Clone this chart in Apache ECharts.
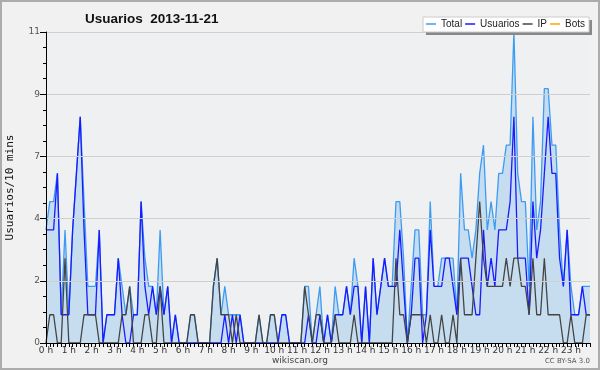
<!DOCTYPE html>
<html><head><meta charset="utf-8">
<script src="https://cdn.jsdelivr.net/npm/echarts@6/dist/echarts.min.js"></script>
<style>html,body{margin:0;padding:0;background:#f1f1f1}#c{width:600px;height:370px}</style>
</head><body><div id="c"></div>
<script>
const hourLabels = ['0 h','1 h','2 h','3 h','4 h','5 h','6 h','7 h','8 h','9 h','10 h','11 h','12 h','13 h','14 h','15 h','16 h','17 h','18 h','19 h','20 h','21 h','22 h','23 h'];
const seriesNames = ['Total','Usuarios','IP','Bots'];
const total = [4,5,5,6,1,4,1,4,6,8, 5,2,2,2,4,0,1,1,1,3, 2,1,2,1,1,5,3,2,2,1, 4,1,2,0,1,0,0,0,1,1, 0,0,0,0,2,3,1,2,1,1, 1,1,0,0,0,0,1,0,0,1, 1,0,1,1,0,0,0,0,2,2, 0,1,2,0,1,0,2,1,1,2, 1,3,2,0,2,0,3,1,2,3, 2,2,5,5,3,0,2,4,4,1, 1,5,2,2,3,3,3,3,1,6, 4,4,3,4,6,7,4,5,4,6, 6,7,7,11,6,5,5,2,8,4, 5,9,9,7,7,4,2,4,2,1, 1,2,2,2];
const usuarios = [4,4,4,6,1,1,1,4,6,8, 4,1,1,1,4,0,1,1,1,3, 1,0,0,1,1,5,2,1,2,1, 2,1,2,0,1,0,0,0,0,0, 0,0,0,0,0,0,0,1,0,1, 0,1,0,0,0,0,0,0,0,0, 0,0,1,1,0,0,0,0,0,1, 0,0,1,0,1,0,1,1,1,2, 1,2,2,0,2,0,3,1,2,3, 2,2,2,4,2,0,1,3,3,0, 1,4,2,2,2,3,3,2,1,3, 3,3,2,1,1,4,2,3,2,4, 4,4,5,8,3,3,3,1,5,3, 4,6,8,6,6,3,2,4,1,1, 1,2,1,1];
const ip = [0,1,1,0,0,3,0,0,0,0, 1,1,1,1,0,0,0,0,0,0, 1,1,2,0,0,0,1,1,0,0, 2,0,0,0,0,0,0,0,1,1, 0,0,0,0,2,3,1,1,1,0, 1,0,0,0,0,0,1,0,0,1, 1,0,0,0,0,0,0,0,2,1, 0,1,1,0,0,0,1,0,0,0, 0,1,0,0,0,0,0,0,0,0, 0,0,3,1,1,0,1,1,1,1, 0,1,0,0,1,0,0,1,0,3, 1,1,1,3,5,3,2,2,2,2, 2,3,2,3,3,2,2,1,3,1, 1,3,1,1,1,1,0,0,1,0, 0,0,1,1];
const bots = [];

const pairs = arr => arr.map((v, i) => [i, v]);
const chart = echarts.init(document.getElementById('c'), null, {renderer: 'canvas'});
const txt = '#333';
chart.setOption({
  animation: false,
  backgroundColor: '#f1f1f1',
  title: {
    text: 'Usuarios  2013-11-21', left: 80, top: 7,
    textStyle: {fontFamily: 'Liberation Sans', fontSize: 13.5, fontWeight: 'bold', color: '#111'}
  },
  grid: {left: 46, right: 10, top: 32, bottom: 27, containLabel: false, outerBoundsMode: 'none',
    show: true, backgroundColor: '#eef0f2', borderWidth: 0},
  legend: {
    data: seriesNames, left: 424, top: 17, width: 180, padding: [2, 2, 2, 2], itemGap: 3,
    itemWidth: 10, itemHeight: 1.5, icon: 'rect', z: 10,
    textStyle: {fontFamily: 'Liberation Sans', fontSize: 10, color: '#222'}
  },
  xAxis: {
    type: 'value', min: 0, max: 143, interval: 6, z: 5,
    axisLine: {lineStyle: {color: '#000', width: 1}},
    axisTick: {length: 4, lineStyle: {color: '#000'}},
    minorTick: {show: true, splitNumber: 6, length: 4, lineStyle: {color: '#000'}},
    splitLine: {show: false},
    axisLabel: {fontFamily: 'DejaVu Sans', fontSize: 9, color: txt, margin: 3,
      formatter: v => hourLabels[Math.round(v / 6)] || ''}
  },
  yAxis: {
    type: 'value', min: 0, max: 11, interval: 2.2, z: 5,
    name: 'Usuarios/10 mins', nameLocation: 'middle', nameGap: 30,
    nameTextStyle: {fontFamily: 'DejaVu Sans Mono', fontSize: 11, color: '#111'},
    axisLine: {show: true, lineStyle: {color: '#000', width: 1}},
    axisTick: {show: true, length: 6, lineStyle: {color: '#000'}},
    minorTick: {show: true, splitNumber: 4, length: 3, lineStyle: {color: '#000'}},
    splitLine: {lineStyle: {color: '#cfcfcf'}},
    axisLabel: {fontFamily: 'DejaVu Sans', fontSize: 9, color: '#555', margin: 6,
      formatter: v => String(Math.round(v))}
  },
  graphic: [
    {type: 'rect', z: 0, shape: {x: 1, y: 1, width: 598, height: 368}, style: {fill: null, stroke: '#acacac', lineWidth: 2}},
    {type: 'rect', z: 8, shape: {x: 426, y: 20, width: 166, height: 15}, style: {fill: '#888'}},
    {type: 'rect', z: 9, shape: {x: 423, y: 17, width: 166, height: 15}, style: {fill: '#fff', stroke: '#ccc', lineWidth: 1}},
    {type: 'text', z: 9, x: 300, y: 356, style: {text: 'wikiscan.org', fill: '#444', font: '9px "DejaVu Sans"', textAlign: 'center'}},
    {type: 'text', z: 9, x: 590, y: 358, style: {text: 'CC BY-SA 3.0', fill: '#555', font: '7px "DejaVu Sans"', textAlign: 'right'}}
  ],
  series: [
    {name: 'Total', type: 'line', data: pairs(total), symbol: 'none', z: 2,
     color: '#3d9cf2', lineStyle: {width: 1.3, color: '#3d9cf2'}, areaStyle: {color: '#c6ddf0', opacity: 1}},
    {name: 'Usuarios', type: 'line', data: pairs(usuarios), symbol: 'none', z: 3,
     color: '#1a1aff', lineStyle: {width: 1.3, color: '#1a1aff'}},
    {name: 'IP', type: 'line', data: pairs(ip), symbol: 'none', z: 4,
     color: '#444', lineStyle: {width: 1.3, color: '#444'}},
    {name: 'Bots', type: 'line', data: pairs(bots), symbol: 'none', z: 1,
     color: '#ffa500', lineStyle: {width: 1.3, color: '#ffa500'}}
  ]
});
</script></body></html>
